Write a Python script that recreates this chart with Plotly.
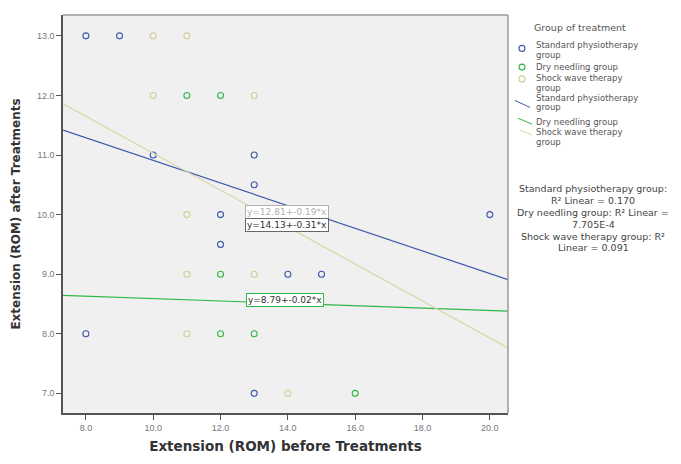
import numpy as np
import plotly.graph_objects as go

# Group names and colours
legend_title = "Group of treatment"
legend_lines = [["Standard physiotherapy", "group"], ["Dry needling group"], ["Shock wave therapy", "group"]]
colors = ["#3E58AC", "#2EB848", "#D3CE97"]

# Extension (ROM) before / after treatment, per group
std_before = [8, 9, 10, 12, 20, 12, 14, 15, 13, 13, 13, 8]
std_after = [13, 13, 11, 10, 10, 9.5, 9, 9, 7, 11, 10.5, 8]

dry_before = [12, 12, 12, 13, 16, 11]
dry_after = [12, 9, 8, 8, 7, 12]

shock_before = [10, 11, 10, 11, 13, 11, 14, 13, 11]
shock_after = [13, 13, 12, 10, 9, 8, 7, 12, 9]

# Linear fit coefficients (intercept, slope) and R squared
fit_intercepts = [12.81, 8.79, 14.13]
fit_slopes = [-0.19, -0.02, -0.31]
fit_labels = ["y=12.81+-0.19*x", "y=8.79+-0.02*x", "y=14.13+-0.31*x"]
r2_lines = ["Standard physiotherapy group:", "R\u00b2 Linear = 0.170",
            "Dry needling group: R\u00b2 Linear =", "7.705E-4",
            "Shock wave therapy group: R\u00b2", "Linear = 0.091"]

x_ticks = [8, 10, 12, 14, 16, 18, 20]
y_ticks = [7, 8, 9, 10, 11, 12, 13]
x_range = [7.32, 20.54]
y_range = [6.67, 13.35]

W, H = 681, 464
ML, MR, MT, MB = 63, 173, 15, 44
PW, PH = W - ML - MR, H - MT - MB


def px(x):
    return (x - ML) / PW


def py(y):
    return (H - MB - y) / PH


WIDE = "DejaVu Sans, Verdana, sans-serif"
NARROW = "Liberation Sans, Arial, sans-serif"

fig = go.Figure()

before = [std_before, dry_before, shock_before]
after = [std_after, dry_after, shock_after]

for c, xb, ya in zip(colors, before, after):
    fig.add_trace(go.Scatter(
        x=xb, y=ya, mode="markers", showlegend=False,
        marker=dict(symbol="circle-open", size=6, color=c, line=dict(width=1.1, color=c)),
    ))

xs = np.array(x_range)
fit_colors = ["#3E58AC", "#2EB848", "#DAD6A8"]
for c, a, b in zip(fit_colors, fit_intercepts, fit_slopes):
    fig.add_trace(go.Scatter(
        x=xs, y=a + b * xs, mode="lines", showlegend=False,
        line=dict(color=c, width=1.2),
    ))

# Equation labels placed on the fit lines
label_pos = [(13.97, 10.05, "#B0B0B0", "#B0B0B0"),
             (13.91, 8.57, "#333333", "#2EB848"),
             (13.97, 9.82, "#333333", "#666666")]
for (lx, ly, tc, bc), txt in zip(label_pos, fit_labels):
    fig.add_annotation(
        x=lx, y=ly, text=txt, showarrow=False,
        font=dict(size=9, color=tc, family=WIDE),
        bgcolor="white", bordercolor=bc, borderwidth=1, borderpad=1,
    )

# Legend drawn beside the plot
fig.add_annotation(xref="paper", yref="paper", x=px(532), y=py(28), xanchor="left", yanchor="middle",
                   text=legend_title, showarrow=False, font=dict(size=9.5, color="#555555", family=WIDE))

marker_y = [49, 68, 80]
text_rows_pts = [[46, 56], [68], [79, 89]]
text_rows_fit = [[99, 109], [124], [134, 144]]
line_segs = [(515, 102, 530, 109), (518, 120, 532, 126), (520, 132, 532, 137)]

for c, my in zip(colors, marker_y):
    fig.add_shape(type="circle", xref="paper", yref="paper",
                  xsizemode="pixel", ysizemode="pixel", xanchor=px(522), yanchor=py(my),
                  x0=-3, x1=3, y0=-3, y1=3, line=dict(color=c, width=1.1))
for c, (x0, y0, x1, y1) in zip(fit_colors, line_segs):
    fig.add_shape(type="line", xref="paper", yref="paper",
                  x0=px(x0), y0=py(y0), x1=px(x1), y1=py(y1), line=dict(color=c, width=1))

for lines, rows in list(zip(legend_lines, text_rows_pts)) + list(zip(legend_lines, text_rows_fit)):
    for t, r in zip(lines, rows):
        fig.add_annotation(xref="paper", yref="paper", x=px(535), y=py(r), xanchor="left", yanchor="middle",
                           text=t, showarrow=False, borderpad=0,
                           font=dict(size=8.5, color="#555555", family=WIDE))

# R squared summary
for t, r in zip(r2_lines, [192, 204, 216, 228, 240, 252]):
    fig.add_annotation(xref="paper", yref="paper", x=px(593), y=py(r), xanchor="center", yanchor="middle",
                       text=t, showarrow=False, borderpad=0,
                       font=dict(size=9.5, color="#444444", family=WIDE))

axis_common = dict(
    showline=True, linecolor="#555555", linewidth=1.5, mirror=False,
    ticks="outside", ticklen=5, tickcolor="#555555", showgrid=False, zeroline=False,
    tickfont=dict(size=9, color="#777777", family=NARROW),
    tickformat=".1f",
)

fig.update_xaxes(
    range=x_range, tickvals=x_ticks, **axis_common,
    title=dict(text="<b>Extension (ROM) before Treatments</b>",
               font=dict(size=13.5, color="#333333", family=WIDE), standoff=10),
)
fig.update_yaxes(
    range=y_range, tickvals=y_ticks, **axis_common,
    title=dict(text="<b>Extension (ROM) after Treatments</b>",
               font=dict(size=12, color="#333333", family=WIDE), standoff=14),
)

# Frame around the plotting area (top and right edges)
fig.add_shape(type="line", xref="paper", yref="paper", x0=0, x1=1, y0=1, y1=1,
              line=dict(color="#9A9A9A", width=1.5))
fig.add_shape(type="line", xref="paper", yref="paper", x0=1, x1=1, y0=0, y1=1,
              line=dict(color="#9A9A9A", width=1.5))

fig.update_layout(
    width=W, height=H,
    margin=dict(l=ML, r=MR, t=MT, b=MB),
    plot_bgcolor="#F0F0F0", paper_bgcolor="white",
    font=dict(family=NARROW, color="#333333"),
    showlegend=False,
)

fig.write_html("out.html")
